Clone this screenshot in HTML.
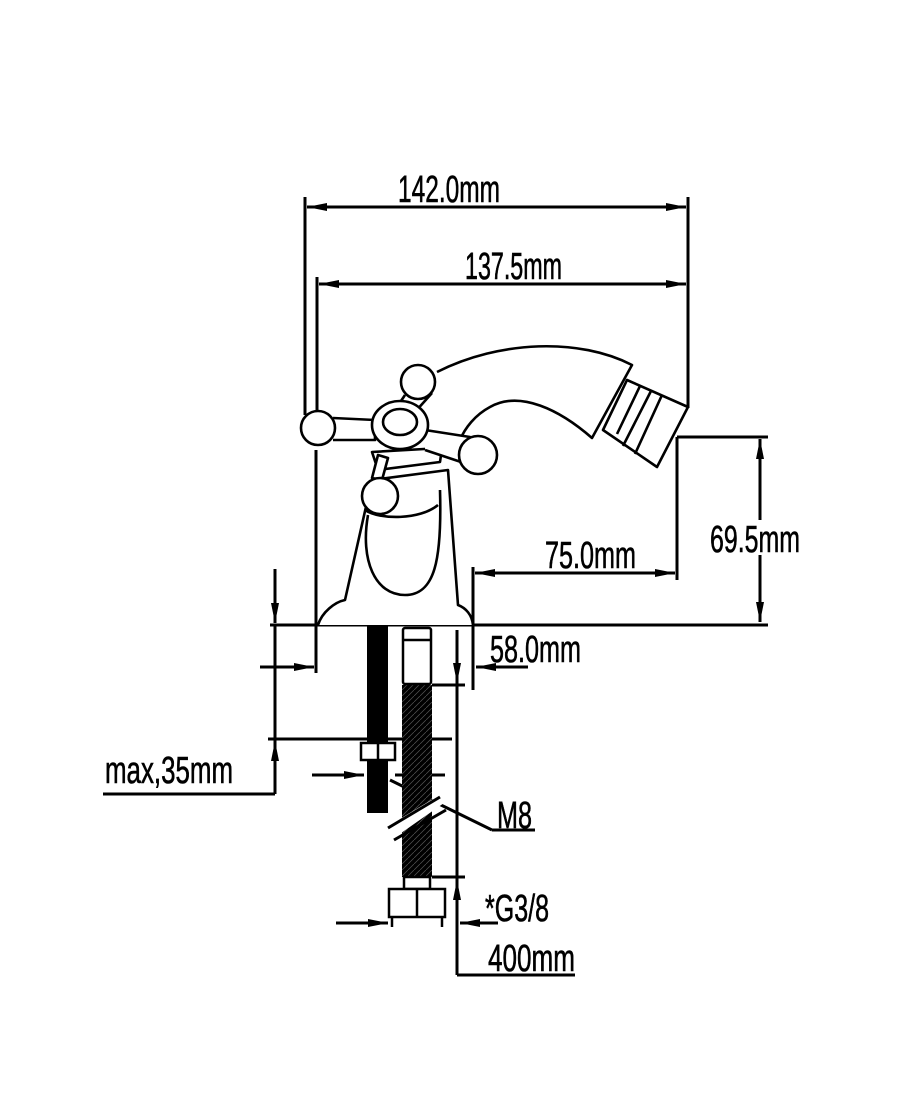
<!DOCTYPE html>
<html><head><meta charset="utf-8"><style>
html,body{margin:0;padding:0;background:#fff;}
svg{display:block}
text{font-family:"Liberation Sans Narrow","Liberation Sans",sans-serif;font-size:38px;fill:#000;stroke:#000;stroke-width:0.6px;}
</style></head><body>
<svg width="900" height="1103" viewBox="0 0 900 1103" xmlns="http://www.w3.org/2000/svg">
<defs>
<marker id="a" viewBox="0 0 20 8" refX="20" refY="4" markerWidth="20" markerHeight="8" markerUnits="userSpaceOnUse" orient="auto-start-reverse"><path d="M0,0 L20,4 L0,8 Z" fill="#000"/></marker>
<pattern id="br" width="6" height="6" patternUnits="userSpaceOnUse"><rect width="6" height="6" fill="#000"/><path d="M0,6 L6,0" stroke="#555" stroke-width="0.7"/></pattern>
</defs>
<g stroke="#000" stroke-width="3" fill="none">
<line x1="305" y1="197" x2="305" y2="415"/>
<line x1="688" y1="197" x2="688" y2="408"/>
<line x1="307" y1="207" x2="686" y2="207" marker-start="url(#a)" marker-end="url(#a)"/>
<line x1="317" y1="277" x2="317" y2="418"/>
<line x1="319" y1="284" x2="686" y2="284" marker-start="url(#a)" marker-end="url(#a)"/>
<line x1="316" y1="450" x2="316" y2="673"/>
<line x1="677" y1="437" x2="768" y2="437"/>
<line x1="677" y1="437" x2="677" y2="580"/>
<line x1="760" y1="439" x2="760" y2="520" marker-start="url(#a)"/>
<line x1="760" y1="555" x2="760" y2="622" marker-end="url(#a)"/>
<line x1="270" y1="625" x2="768" y2="625"/>
<line x1="473" y1="567" x2="473" y2="690"/>
<line x1="475" y1="573" x2="675" y2="573" marker-start="url(#a)" marker-end="url(#a)"/>
<line x1="528" y1="667" x2="476" y2="667" marker-end="url(#a)"/>
<line x1="275" y1="569" x2="275" y2="623" marker-end="url(#a)"/>
<line x1="275" y1="794" x2="275" y2="741" marker-end="url(#a)"/>
<line x1="275" y1="625" x2="275" y2="741"/>
<line x1="103" y1="794" x2="275" y2="794"/>
<line x1="268" y1="739" x2="452" y2="739"/>
<line x1="260" y1="667" x2="314" y2="667" marker-end="url(#a)"/>
<line x1="312" y1="775" x2="364" y2="775" marker-end="url(#a)"/>
<line x1="395" y1="775" x2="445" y2="775"/>
<line x1="457" y1="630" x2="457" y2="683" marker-end="url(#a)"/>
<line x1="457" y1="975" x2="457" y2="880" marker-end="url(#a)"/>
<line x1="457" y1="683" x2="457" y2="880"/>
<line x1="457" y1="975" x2="575" y2="975"/>
<line x1="432" y1="685" x2="465" y2="685"/>
<line x1="432" y1="877" x2="465" y2="877"/>
<line x1="336" y1="923" x2="388" y2="923" marker-end="url(#a)"/>
<line x1="498" y1="923" x2="460" y2="923" marker-end="url(#a)"/>
<line x1="390" y1="780" x2="492" y2="830"/>
<line x1="492" y1="830" x2="535" y2="830"/>
</g>
<rect x="367" y="625" width="21" height="188" fill="#000"/>
<rect x="402" y="685" width="30" height="192" fill="url(#br)"/>
<g stroke="#000" stroke-width="2.5" fill="#fff">
<rect x="403" y="628" width="28" height="56" rx="2"/>
<line x1="403" y1="640" x2="431" y2="640"/>
<rect x="361" y="743" width="34" height="17"/>
<line x1="378" y1="743" x2="378" y2="760"/>
<rect x="404" y="877" width="26" height="12"/>
<rect x="389" y="889" width="56" height="28"/>
<line x1="417" y1="889" x2="417" y2="917"/>
<line x1="392" y1="917" x2="392" y2="927"/>
<line x1="442" y1="917" x2="442" y2="927"/>
</g>
<polygon points="388,826 438,796 444,803 394,838" fill="#fff"/>
<g stroke="#000" stroke-width="3">
<line x1="388" y1="828" x2="440" y2="797"/>
<line x1="394" y1="840" x2="446" y2="810"/>
</g>
<g stroke="#000" stroke-width="2.6" fill="#fff" stroke-linejoin="round">
<path d="M437,372 C500,340 580,338 632,365 L592,438 C560,410 520,390 490,407 C475,415 465,428 460,440"/>
<path d="M627,380 L688,407 L657,467 L603,430 Z"/>
<path d="M640,386 L617,434 M651,391 L623,446 M662,395 L635,454"/>
<path d="M318,625 C322,612 335,602 345,600 L372,480 L448,470 L458,605 C466,608 472,615 473,625"/>
<path d="M368,515 C360,560 375,595 405,595 C435,595 442,560 440,490"/>
<path d="M365,510 C380,520 420,520 438,505"/>
<path d="M378,470 L440,462 L442,448 L372,452 Z"/>
<circle cx="418" cy="382" r="17"/>
<path d="M405,395 L395,410 M432,393 L415,412"/>
<path d="M333,418 L375,420 L375,440 L333,440"/>
<circle cx="318" cy="428" r="17"/>
<path d="M425,430 L470,437 L470,465 L425,450"/>
<circle cx="478" cy="455" r="19"/>
<ellipse cx="400" cy="425" rx="28" ry="24"/>
<ellipse cx="400" cy="422" rx="17" ry="13"/>
<path d="M378,455 L388,458 L382,480 L372,478 Z"/>
<circle cx="380" cy="496" r="18"/>
</g>
<text x="398" y="202" textLength="102" lengthAdjust="spacingAndGlyphs">142.0mm</text>
<text x="465" y="279" textLength="97" lengthAdjust="spacingAndGlyphs">137.5mm</text>
<text x="710" y="552" textLength="90" lengthAdjust="spacingAndGlyphs">69.5mm</text>
<text x="545" y="568" textLength="91" lengthAdjust="spacingAndGlyphs">75.0mm</text>
<text x="490" y="662" textLength="91" lengthAdjust="spacingAndGlyphs">58.0mm</text>
<text x="105" y="783" textLength="128" lengthAdjust="spacingAndGlyphs">max,35mm</text>
<text x="497" y="828" textLength="35" lengthAdjust="spacingAndGlyphs">M8</text>
<text x="485" y="921" textLength="64" lengthAdjust="spacingAndGlyphs">*G3/8</text>
<text x="488" y="971" textLength="87" lengthAdjust="spacingAndGlyphs">400mm</text>
</svg>
</body></html>
